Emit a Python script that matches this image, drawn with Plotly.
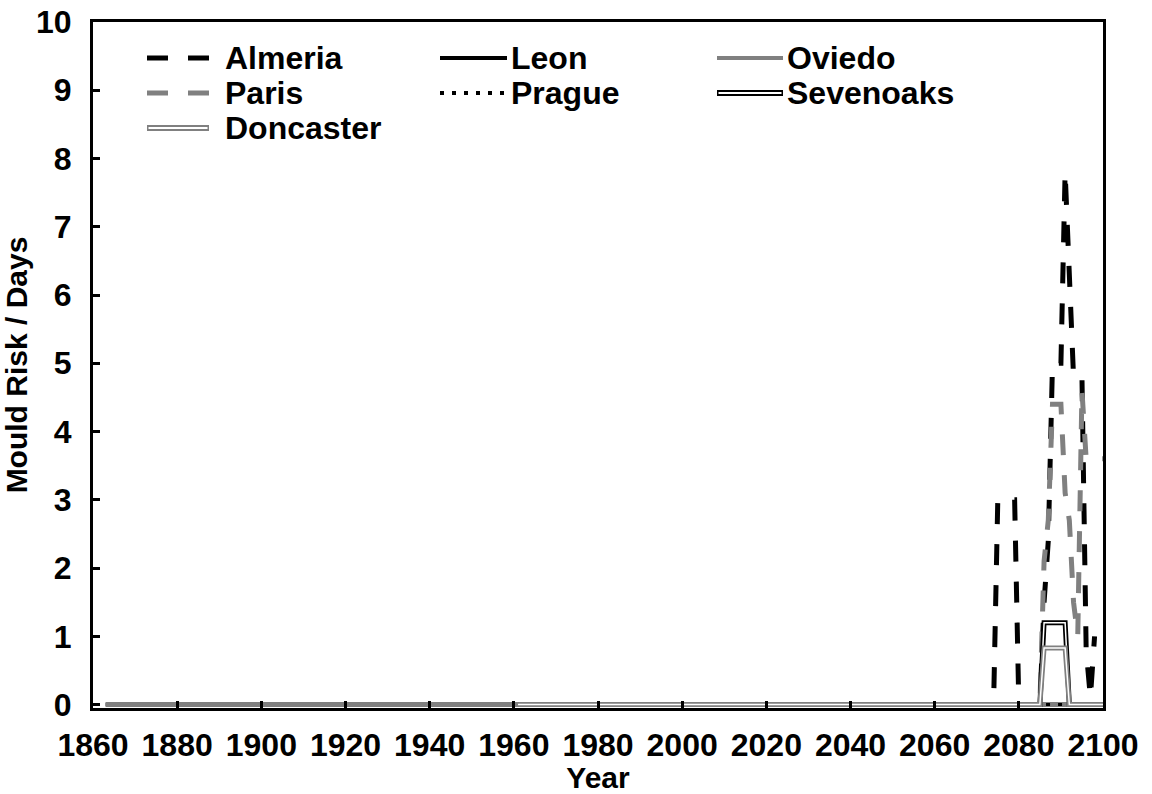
import plotly.graph_objects as go

# ---------------- data (year, mould-risk days) ----------------
almeria_years = [1961, 2074, 2075, 2079, 2080, 2085, 2086, 2087, 2088, 2089, 2090,
                 2091, 2092, 2093, 2094, 2095, 2096, 2097, 2098]
almeria_risk = [0, 0, 3.0, 3.0, 0, 0, 1.5, 2.4, 5.0, 5.0, 5.0,
                7.8, 6.3, 4.8, 4.8, 4.8, 0.8, 0.1, 1.0]

leon_years = [1863, 2100]
leon_risk = [0, 0]

oviedo_years = [1863, 2100]
oviedo_risk = [0, 0]

paris_years = [1961, 2085, 2086, 2087, 2088, 2089, 2090, 2091, 2092,
               2093, 2094, 2095, 2096, 2097, 2098, 2099, 2100]
paris_risk = [0, 0, 2.1, 2.7, 4.4, 4.4, 4.4, 3.1, 2.7,
              1.5, 1.0, 4.6, 3.6, 3.6, 3.6, 3.6, 3.6]

prague_years = [1961, 2100]
prague_risk = [0, 0]

sevenoaks_years = [1961, 2085, 2086, 2087, 2088, 2089, 2090, 2091, 2092, 2100]
sevenoaks_risk = [0, 0, 1.2, 1.2, 1.2, 1.2, 1.2, 1.2, 0, 0]

doncaster_years = [1961, 2085, 2086, 2087, 2088, 2089, 2090, 2091, 2092, 2100]
doncaster_risk = [0, 0, 0.83, 0.83, 0.83, 0.83, 0.83, 0.83, 0, 0]

x_ticks = [1860, 1880, 1900, 1920, 1940, 1960, 1980, 2000, 2020, 2040, 2060, 2080, 2100]
y_ticks = [0, 1, 2, 3, 4, 5, 6, 7, 8, 9, 10]

# ---------------- styling ----------------
BLACK = "#000000"
GREY = "#808080"
FONT = "Liberation Sans, Arial, sans-serif"
FS = 32
FS_TITLE = 30
DASH = "21px,20px"
DOTS = "4px,8px"

W, H = 1152, 794
ML, MR, MT, MB = 93, 49, 22, 86

fig = go.Figure()


def add_line(x, y, name, color, width, dash="solid"):
    fig.add_trace(go.Scatter(x=x, y=y, name=name, mode="lines", showlegend=False,
                             line=dict(color=color, width=width, dash=dash)))


add_line(almeria_years, almeria_risk, "Almeria", BLACK, 5, DASH)
add_line(leon_years, leon_risk, "Leon", BLACK, 4)
add_line(oviedo_years, oviedo_risk, "Oviedo", GREY, 4)
add_line(paris_years, paris_risk, "Paris", GREY, 5, DASH)
add_line(prague_years, prague_risk, "Prague", BLACK, 3, DOTS)
# double lines: wide stroke with a thin white core
add_line(sevenoaks_years, sevenoaks_risk, "Sevenoaks", BLACK, 5)
add_line(sevenoaks_years, sevenoaks_risk, "Sevenoaks", "#ffffff", 1.5)
add_line(doncaster_years, doncaster_risk, "Doncaster", GREY, 5)
add_line(doncaster_years, doncaster_risk, "Doncaster", "#ffffff", 1.5)

# ---------------- legend (drawn inside the plot area) ----------------
pw = W - ML - MR
ph = H - MT - MB


def px_x(px):
    return (px - ML) / pw


def px_y(py):
    return 1 - (py - MT) / ph


legend_items = [
    # name, column, row, colour, width, dash, double
    ("Almeria", 0, 0, BLACK, 5, DASH, False),
    ("Leon", 1, 0, BLACK, 4, "solid", False),
    ("Oviedo", 2, 0, GREY, 4, "solid", False),
    ("Paris", 0, 1, GREY, 5, DASH, False),
    ("Prague", 1, 1, BLACK, 4, DOTS, False),
    ("Sevenoaks", 2, 1, BLACK, 6, "solid", True),
    ("Doncaster", 0, 2, GREY, 6, "solid", True),
]
col_x = [(147, 209, 223), (440, 507, 509), (717, 783, 785)]
row_y = [58, 93, 128]

shapes = []
annotations = []
for name, c, r, color, width, dash, double in legend_items:
    x0, x1, tx = col_x[c]
    yy = px_y(row_y[r])
    shapes.append(dict(type="line", xref="paper", yref="paper",
                       x0=px_x(x0), x1=px_x(x1), y0=yy, y1=yy,
                       line=dict(color=color, width=width, dash=dash)))
    if double:
        shapes.append(dict(type="line", xref="paper", yref="paper",
                           x0=px_x(x0 + 1.5), x1=px_x(x1 - 1.5), y0=yy, y1=yy,
                           line=dict(color="#ffffff", width=2)))
    annotations.append(dict(text=name, xref="paper", yref="paper",
                            x=px_x(tx), y=yy, xanchor="left", yanchor="middle",
                            showarrow=False,
                            font=dict(family=FONT, size=FS, color=BLACK, weight="bold")))

fig.update_layout(
    width=W, height=H, autosize=False,
    margin=dict(l=ML, r=MR, t=MT, b=MB, pad=0),
    paper_bgcolor="white", plot_bgcolor="white",
    font=dict(family=FONT, size=FS, color=BLACK, weight="bold"),
    showlegend=False,
    shapes=shapes,
    annotations=annotations,
    xaxis=dict(
        range=[1860, 2100], tickvals=x_ticks, ticktext=[str(v) for v in x_ticks],
        automargin=False,
        showgrid=False, zeroline=False,
        showline=True, linewidth=3, linecolor=BLACK, mirror=True,
        ticks="inside", ticklen=7, tickwidth=3, tickcolor=BLACK,
        ticklabelstandoff=7,
        tickfont=dict(family=FONT, size=FS, color=BLACK, weight="bold"),
        title=dict(text="Year", standoff=8,
                   font=dict(family=FONT, size=FS_TITLE, color=BLACK, weight="bold")),
    ),
    yaxis=dict(
        range=[-0.05, 10], tickvals=y_ticks,
        automargin=False,
        showgrid=False, zeroline=False,
        showline=True, linewidth=3, linecolor=BLACK, mirror=True,
        ticks="inside", ticklen=7, tickwidth=3, tickcolor=BLACK,
        ticklabelstandoff=12,
        tickfont=dict(family=FONT, size=FS, color=BLACK, weight="bold"),
        title=dict(text="Mould Risk / Days", standoff=0,
                   font=dict(family=FONT, size=FS_TITLE, color=BLACK, weight="bold")),
    ),
)

fig.write_html("out.html")
